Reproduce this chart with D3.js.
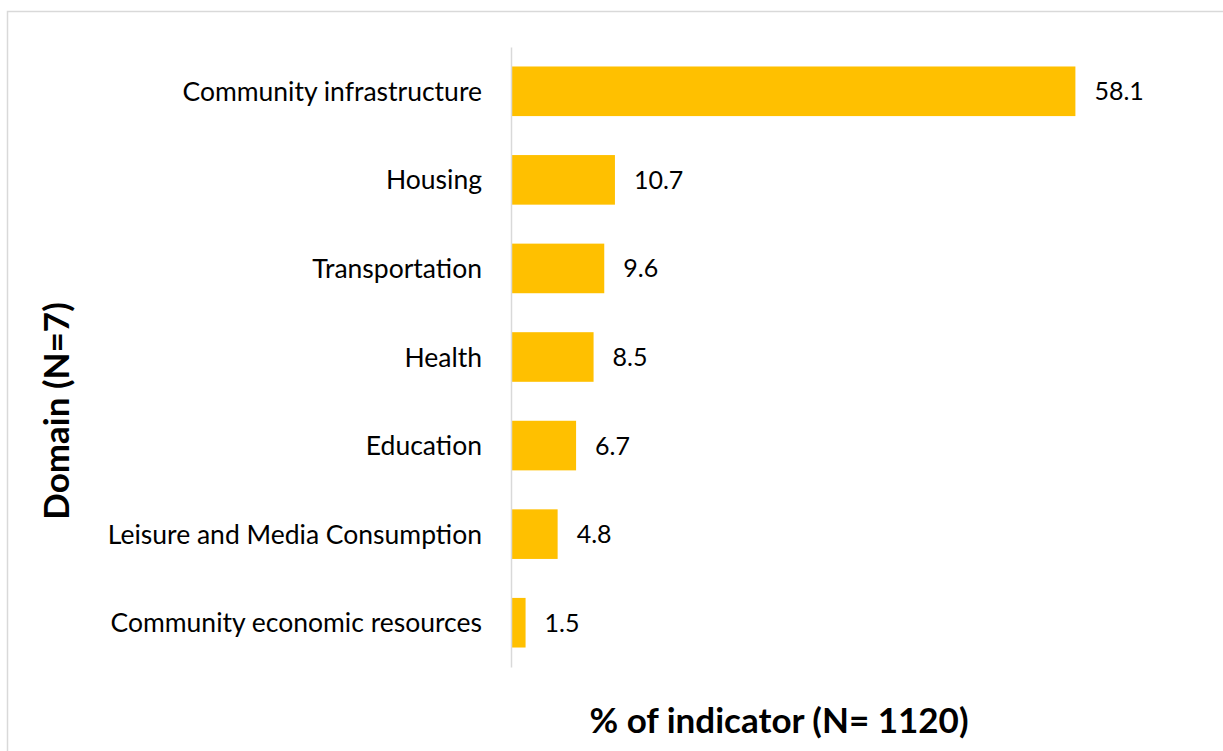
<!DOCTYPE html>
<html lang="en">
<head>
    <meta charset="UTF-8">
    <title>Domain share of indicators</title>
    <script src="https://d3js.org/d3.v7.min.js"></script>
    <style>
        body { margin: 0; background: #fff; }
        .cat-label { font-family: Lato, "Open Sans", sans-serif; font-size: 26.5px; fill: #000; }
        .val-label { font-family: Lato, "Open Sans", sans-serif; font-size: 25px; fill: #000; }
        .axis-title { font-family: Lato, "Open Sans", sans-serif; font-size: 35px; font-weight: bold; fill: #000; }
    </style>
</head>
<body>
<svg id="chart"></svg>
<script>
    // Data
    const domains = [
        "Community infrastructure",
        "Housing",
        "Transportation",
        "Health",
        "Education",
        "Leisure and Media Consumption",
        "Community economic resources"
    ];
    const percents = [58.1, 10.7, 9.6, 8.5, 6.7, 4.8, 1.5];

    const svgWidth = 1223;
    const svgHeight = 751;
    const margin = { top: 47, right: 32, bottom: 84, left: 511 };
    const width = svgWidth - margin.left - margin.right;
    const height = svgHeight - margin.top - margin.bottom;

    const svg = d3.select("#chart")
        .attr("width", svgWidth)
        .attr("height", svgHeight);

    // outer chart frame (runs off the right and bottom of the picture)
    svg.append("rect")
        .attr("x", 7.5)
        .attr("y", 11.5)
        .attr("width", svgWidth + 20)
        .attr("height", svgHeight + 20)
        .attr("fill", "none")
        .attr("stroke", "#d9d9d9")
        .attr("stroke-width", 1.5);

    const plot = svg.append("g")
        .attr("transform", "translate(" + margin.left + "," + margin.top + ")");

    const xScale = d3.scaleLinear()
        .domain([0, 70])
        .range([0, 680]);

    const yScale = d3.scaleBand()
        .domain(domains)
        .range([0, height])
        .paddingInner(0.44)
        .paddingOuter(0.22);

    const data = domains.map((d, i) => ({ domain: d, value: percents[i] }));

    // bars
    plot.selectAll(".bar")
        .data(data)
        .enter().append("rect")
        .attr("class", "bar")
        .attr("x", 0)
        .attr("y", d => yScale(d.domain))
        .attr("width", d => xScale(d.value))
        .attr("height", yScale.bandwidth())
        .attr("fill", "#ffc000");

    // value labels
    plot.selectAll(".val-label")
        .data(data)
        .enter().append("text")
        .attr("class", "val-label")
        .attr("x", d => xScale(d.value) + 19)
        .attr("y", d => yScale(d.domain) + yScale.bandwidth() / 2)
        .attr("dy", "0.36em")
        .text(d => d.value.toFixed(1));

    // y axis: line plus category labels
    const yAxis = plot.append("g")
        .call(d3.axisLeft(yScale).tickSize(0).tickPadding(29));
    yAxis.select(".domain")
        .attr("stroke", "#d9d9d9")
        .attr("stroke-width", 1.5);
    yAxis.selectAll("text")
        .attr("class", "cat-label")
        .attr("font-family", null)
        .attr("font-size", null)
        .attr("fill", null)
        .attr("dy", "0.36em");

    // axis titles
    svg.append("text")
        .attr("class", "axis-title")
        .attr("transform", "translate(" + 69 + "," + 411 + ") rotate(-90)")
        .attr("text-anchor", "middle")
        .text("Domain (N=7)");

    svg.append("text")
        .attr("class", "axis-title")
        .attr("x", 779)
        .attr("y", 733)
        .attr("text-anchor", "middle")
        .text("% of indicator (N= 1120)");
</script>
</body>
</html>
